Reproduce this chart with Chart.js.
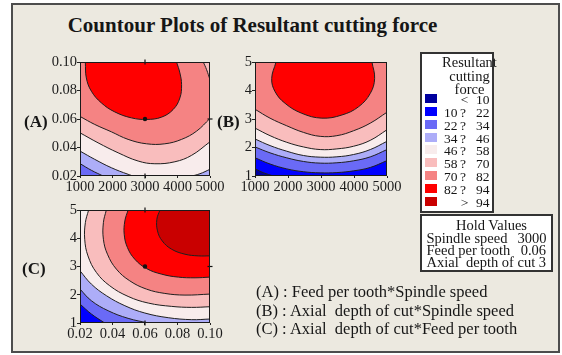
<!DOCTYPE html>
<html>
<head>
<meta charset="utf-8">
<title>Countour Plots of Resultant cutting force</title>
<script src="https://cdn.jsdelivr.net/npm/chart.js@4/dist/chart.umd.min.js"></script>
<style>
  html, body { margin: 0; padding: 0; background: #ffffff; }
  body { position: relative; width: 562px; height: 355px; overflow: hidden;
         font-family: 'Liberation Serif', 'Times New Roman', serif; color: #161616; }
  .abs { position: absolute; white-space: pre; line-height: 1; }
  #frame { position: absolute; left: 11px; top: 3px; width: 549px; height: 350px; box-sizing: border-box;
           border: 2px solid #4d4d4d; background: #ECE9E0; }
  canvas { position: absolute; }
  .box { position: absolute; box-sizing: border-box; border: 2px solid #333; background: #ffffff; }
  .sw { position: absolute; }
</style>
</head>
<body>
<div id="frame"></div>
<canvas id="plotA" width="202" height="150" style="left:30px;top:50px"></canvas>
<canvas id="plotB" width="180" height="150" style="left:225px;top:50px"></canvas>
<canvas id="plotC" width="202" height="150" style="left:30px;top:198px"></canvas>
<div class="box" style="left:420px;top:52px;width:74px;height:161px"></div>
<div class="box" style="left:420px;top:214px;width:133px;height:58px"></div>
<script>
const SERIF = "'Liberation Serif', 'Times New Roman', serif";

// Contour levels of the resultant cutting force and the band colours between them
const levels = [10, 22, 34, 46, 58, 70, 82, 94];
const bandColors = ['#00009E', '#0000FF', '#6A6AF6', '#ADADF8', '#F8ECEC', '#F9BDBD', '#F58383', '#FF0000', '#C90000'];

// Hold values of the variable not shown on each plot
const holdSpeed = 3000;
const holdFeed = 0.06;
const holdDepth = 3;

// Axis ticks
const speedTicks = [1000, 2000, 3000, 4000, 5000];
const feedTicks = [0.02, 0.04, 0.06, 0.08, 0.10];
const depthTicks = [1, 2, 3, 4, 5];

// (A) Feed per tooth * Spindle speed : contour lines as [speed, feed]
const aLine34 = [[1000, 0.0287], [1350, 0.0240], [1709, 0.02]];
const aLine46 = [[1000, 0.0375], [1452, 0.0317], [1966, 0.0258], [2480, 0.0212], [2686, 0.02], [4382, 0.02], [4690, 0.0216], [5000, 0.0247]];
const aLine58 = [[1000, 0.0503], [1555, 0.0433], [2172, 0.0363], [2789, 0.0305], [3303, 0.0286], [3920, 0.0300], [4434, 0.0345], [5000, 0.0440]];
const aLine70 = [[1000, 0.0618], [1452, 0.0562], [1966, 0.0510], [2480, 0.0457], [3046, 0.0426], [3611, 0.0426], [4125, 0.0457], [4588, 0.0515], [5000, 0.0604]];
const aLine70Corner = [[4793, 0.10], [4896, 0.0946], [5000, 0.0876]];
const aLine82 = [[1164, 0.10], [1195, 0.0888], [1350, 0.0795], [1658, 0.0713], [2069, 0.0650], [2583, 0.0608], [3046, 0.0597], [3508, 0.0613], [3868, 0.0667], [4074, 0.0748], [4125, 0.0841], [4074, 0.0923], [3971, 0.10]];

// (B) Axial depth of cut * Spindle speed : contour lines as [speed, depth]
const bLine10 = [[1000, 1.255], [1253, 1.116], [1557, 1.0]];
const bLine22 = [[1000, 1.640], [1456, 1.420], [1962, 1.250], [2468, 1.150], [2975, 1.110], [3481, 1.120], [3987, 1.180], [4494, 1.300], [5000, 1.540]];
const bLine34 = [[1000, 2.020], [1456, 1.812], [1962, 1.638], [2468, 1.510], [2975, 1.452], [3481, 1.464], [3987, 1.533], [4494, 1.672], [5000, 1.928]];
const bLine46 = [[1000, 2.299], [1456, 2.067], [1962, 1.870], [2468, 1.719], [2975, 1.661], [3481, 1.673], [3987, 1.754], [4494, 1.928], [5000, 2.217]];
const bLine58 = [[1000, 2.681], [1456, 2.415], [1962, 2.183], [2468, 2.020], [2975, 1.928], [3481, 1.951], [3987, 2.044], [4494, 2.252], [5000, 2.623]];
const bLine70 = [[1000, 3.342], [1456, 3.029], [1962, 2.762], [2468, 2.530], [2975, 2.391], [3481, 2.415], [3987, 2.588], [4494, 2.855], [5000, 3.238]];
const bLine82 = [[1638, 5.0], [1506, 4.42], [1608, 3.96], [1911, 3.55], [2418, 3.20], [3025, 3.03], [3633, 3.14], [4139, 3.43], [4494, 3.90], [4625, 4.42], [4544, 5.0]];

// (C) Axial depth of cut * Feed per tooth : contour lines as [feed, depth]
const cLine22 = [[0.02, 1.671], [0.0270, 1.318], [0.0352, 1.0]];
const cLine34 = [[0.02, 2.2], [0.0270, 1.788], [0.0373, 1.435], [0.0496, 1.165], [0.0620, 1.0]];
const cLine46 = [[0.02, 2.847], [0.0270, 2.376], [0.0363, 1.965], [0.0476, 1.612], [0.0599, 1.353], [0.0743, 1.188], [0.0887, 1.118], [0.10, 1.141]];
const cLine58 = [[0.0253, 5.0], [0.0233, 4.553], [0.0229, 3.965], [0.0249, 3.376], [0.0301, 2.788], [0.0383, 2.318], [0.0496, 1.941], [0.0620, 1.706], [0.0764, 1.588], [0.0887, 1.553], [0.10, 1.576]];
const cLine70 = [[0.0362, 5.0], [0.0344, 4.553], [0.0344, 3.965], [0.0369, 3.435], [0.0424, 2.906], [0.0506, 2.494], [0.0609, 2.200], [0.0722, 2.047], [0.0846, 1.988], [0.10, 2.024]];
const cLine82 = [[0.0496, 5.0], [0.0476, 4.612], [0.0472, 4.141], [0.0492, 3.671], [0.0537, 3.259], [0.0609, 2.929], [0.0702, 2.729], [0.0805, 2.624], [0.0908, 2.600], [0.10, 2.624]];
const cLine94 = [[0.0692, 5.0], [0.0673, 4.671], [0.0677, 4.259], [0.0706, 3.906], [0.0764, 3.612], [0.0846, 3.435], [0.0928, 3.376], [0.10, 3.376]];

// Text
const titleText = 'Countour Plots of Resultant cutting force';
const legendTitle = ['Resultant', 'cutting', 'force'];
const notes = ['(A) : Feed per tooth*Spindle speed', '(B) : Axial  depth of cut*Spindle speed', '(C) : Axial  depth of cut*Feed per tooth'];

// ---------------------------------------------------------------------------
// Turns a contour line (running from one frame edge to another) into a closed
// outline of the region above that level: the ends are pushed just past the
// frame and the outline returns counter-clockwise round the outside of it.
function regionOutline(line, xr, yr) {
  const [x0, x1] = xr, [y0, y1] = yr;
  const n = line.map(([x, y]) => [(x - x0) / (x1 - x0), (y - y0) / (y1 - y0)]);
  const eps = 1e-4;
  const edgeOf = q => Math.abs(q[1]) < eps ? 0 : Math.abs(q[0] - 1) < eps ? 1 : Math.abs(q[1] - 1) < eps ? 2 : Math.abs(q[0]) < eps ? 3 : -1;
  const beyond = (a, b) => {
    const vx = a[0] - b[0], vy = a[1] - b[1], L = Math.hypot(vx, vy) || 1;
    return [a[0] + vx / L * 0.05, a[1] + vy / L * 0.05];
  };
  const last = n.length - 1;
  const out = [beyond(n[0], n[1]), ...n, beyond(n[last], n[last - 1])];
  const o = 0.3;
  const corners = [[-o, -o], [1 + o, -o], [1 + o, 1 + o], [-o, 1 + o]];
  const s = edgeOf(n[0]), e = edgeOf(n[last]);
  if (s !== e && s >= 0 && e >= 0) {
    let i = e;
    do { i = (i + 1) % 4; out.push(corners[i]); } while (i !== s);
  }
  return out.map(([u, v]) => ({ x: x0 + u * (x1 - x0), y: y0 + v * (y1 - y0) }));
}

function wholeFrame(xr, yr) {
  const dx = (xr[1] - xr[0]) * 0.05, dy = (yr[1] - yr[0]) * 0.05;
  return [
    { x: xr[0] - dx, y: yr[0] - dy }, { x: xr[1] + dx, y: yr[0] - dy },
    { x: xr[1] + dx, y: yr[1] + dy }, { x: xr[0] - dx, y: yr[1] + dy }
  ];
}

const plotFrame = {
  id: 'plotFrame',
  afterDatasetsDraw(chart) {
    const { ctx, chartArea: a } = chart;
    ctx.save();
    ctx.strokeStyle = '#1a1a1a';
    ctx.lineWidth = 1;
    ctx.strokeRect(a.left + 0.5, a.top + 0.5, a.right - a.left - 1, a.bottom - a.top - 1);
    ctx.restore();
  }
};

function axis(range, ticks, fmt, isX, size) {
  return {
    type: 'linear', min: range[0], max: range[1],
    afterBuildTicks: s => { s.ticks = ticks.map(v => ({ value: v })); },
    ticks: { callback: v => fmt(v), font: { family: SERIF, size: 14.5 }, color: '#1c1c1c',
             padding: 0, autoSkip: false, maxRotation: 0, minRotation: 0 },
    grid: { display: true, drawOnChartArea: false, drawTicks: true, tickLength: isX ? 2 : 3, color: '#222', lineWidth: 1 },
    border: { display: false },
    afterFit: s => {
      if (isX) s.height = size; else s.width = size;
      s.paddingLeft = s.paddingRight = s.paddingTop = s.paddingBottom = 0;
    }
  };
}

function makePlot(id, p) {
  const datasets = [];
  const count = p.bands.length;
  p.bands.forEach((b, i) => {
    const base = !b.line;
    datasets.push({
      data: base ? wholeFrame(p.xr, p.yr) : regionOutline(b.line, p.xr, p.yr),
      showLine: true, fill: 'shape', tension: base ? 0 : 0.4,
      backgroundColor: bandColors[b.band],
      borderColor: base ? 'rgba(0,0,0,0)' : '#1f1f1f', borderWidth: base ? 0 : 1,
      pointRadius: 0, pointHoverRadius: 0, pointHitRadius: 0,
      clip: 0, order: count - i + 1
    });
  });
  if (p.hold) {
    datasets.push({
      data: p.hold.map(h => ({ x: h[0], y: h[1] })),
      showLine: false,
      pointStyle: p.hold.map(h => h[2] === 'dot' ? 'circle' : 'line'),
      rotation: p.hold.map(h => h[2] === 'v' ? 90 : 0),
      pointRadius: p.hold.map(h => h[2] === 'dot' ? 1.6 : 2.5),
      pointHoverRadius: 0,
      backgroundColor: '#111', borderColor: '#111', borderWidth: 1.2,
      clip: false, order: 0
    });
  }
  return new Chart(document.getElementById(id), {
    type: 'scatter',
    data: { datasets },
    options: {
      responsive: false, animation: false, events: [],
      layout: { padding: p.pad },
      elements: { line: { capBezierPoints: true } },
      plugins: { legend: { display: false }, tooltip: { enabled: false }, title: { display: false } },
      scales: {
        x: axis(p.xr, p.xTicks, p.xFmt, true, 18),
        y: axis(p.yr, p.yTicks, p.yFmt, false, p.yWidth)
      }
    },
    plugins: [plotFrame]
  });
}

const fmt2 = v => Number(v).toFixed(2);
const fmt0 = v => String(v);

makePlot('plotA', {
  xr: [1000, 5000], yr: [0.02, 0.10], xTicks: speedTicks, yTicks: feedTicks, xFmt: fmt0, yFmt: fmt2,
  yWidth: 40, pad: { left: 10, right: 22, top: 12, bottom: 6 },
  bands: [
    { band: 2 }, { line: aLine34, band: 3 }, { line: aLine46, band: 4 }, { line: aLine58, band: 5 },
    { line: aLine70, band: 6 }, { line: aLine70Corner, band: 5 }, { line: aLine82, band: 7 }
  ],
  hold: [[holdSpeed, 0.10, 'v'], [holdSpeed, 0.02, 'v'], [5000, holdFeed, 'h'], [holdSpeed, holdFeed, 'dot']]
});

makePlot('plotB', {
  xr: [1000, 5000], yr: [1, 5], xTicks: speedTicks, yTicks: depthTicks, xFmt: fmt0, yFmt: fmt0,
  yWidth: 25, pad: { left: 5, right: 18, top: 12, bottom: 6 },
  bands: [
    { band: 0 }, { line: bLine10, band: 1 }, { line: bLine22, band: 2 }, { line: bLine34, band: 3 },
    { line: bLine46, band: 4 }, { line: bLine58, band: 5 }, { line: bLine70, band: 6 }, { line: bLine82, band: 7 }
  ]
});

makePlot('plotC', {
  xr: [0.02, 0.10], yr: [1, 5], xTicks: feedTicks, yTicks: depthTicks, xFmt: fmt2, yFmt: fmt0,
  yWidth: 40, pad: { left: 10, right: 22, top: 12, bottom: 7 },
  bands: [
    { band: 1 }, { line: cLine22, band: 2 }, { line: cLine34, band: 3 }, { line: cLine46, band: 4 },
    { line: cLine58, band: 5 }, { line: cLine70, band: 6 }, { line: cLine82, band: 7 }, { line: cLine94, band: 8 }
  ],
  hold: [[holdFeed, 5, 'v'], [holdFeed, 1, 'v'], [0.10, holdDepth, 'h'], [holdFeed, holdDepth, 'dot']]
});

// ---------------------------------------------------------------------------
// Text and the legend boxes
function put(text, x, base, size, align, bold) {
  const d = document.createElement('div');
  d.className = 'abs';
  d.textContent = text;
  d.style.fontSize = size + 'px';
  if (bold) d.style.fontWeight = 'bold';
  d.style.top = (base - 0.8375 * size) + 'px';
  if (align === 'right') d.style.right = (562 - x) + 'px';
  else if (align === 'center') { d.style.left = (x - 200) + 'px'; d.style.width = '400px'; d.style.textAlign = 'center'; }
  else d.style.left = x + 'px';
  document.body.appendChild(d);
}
function swatch(x, y, w, h, color) {
  const d = document.createElement('div');
  d.className = 'sw';
  Object.assign(d.style, { left: x + 'px', top: y + 'px', width: w + 'px', height: h + 'px', background: color });
  document.body.appendChild(d);
}

put(titleText, 252.5, 33, 21, 'center', true);
put('(A)', 24, 127, 17, 'left', true);
put('(B)', 217, 127, 17, 'left', true);
put('(C)', 22, 274, 17, 'left', true);

legendTitle.forEach((t, i) => put(t, 469.5, [67, 81, 94.5][i], 14.5, 'center'));
for (let i = 0; i < bandColors.length; i++) {
  const top = Math.round(94 + i * 12.85);
  swatch(425, top, 12, 9, bandColors[i]);
  const base = top + 10.5;
  const fs = 13.5;
  if (i === 0) {
    put('<', 464.5, base, fs, 'center');
    put(String(levels[0]), 489.5, base, fs, 'right');
  } else if (i === bandColors.length - 1) {
    put('>', 464.5, base, fs, 'center');
    put(String(levels[levels.length - 1]), 489.5, base, fs, 'right');
  } else {
    put(String(levels[i - 1]), 444, base, fs, 'left');
    put('?', 463, base, fs, 'center');
    put(String(levels[i]), 489.5, base, fs, 'right');
  }
}

put('Hold Values', 491.5, 230.5, 14.5, 'center');
put('Spindle speed', 426.5, 243.5, 14.5, 'left');
put(String(holdSpeed), 546.5, 243.5, 14.5, 'right');
put('Feed per tooth', 426.5, 255.3, 14.5, 'left');
put(holdFeed.toFixed(2), 546, 255.3, 14.5, 'right');
put('Axial  depth of cut ' + holdDepth, 426.5, 267, 14.5, 'left');

notes.forEach((t, i) => put(t, 256, [298.3, 316.7, 335][i], 16.5, 'left'));
</script>
</body>
</html>
